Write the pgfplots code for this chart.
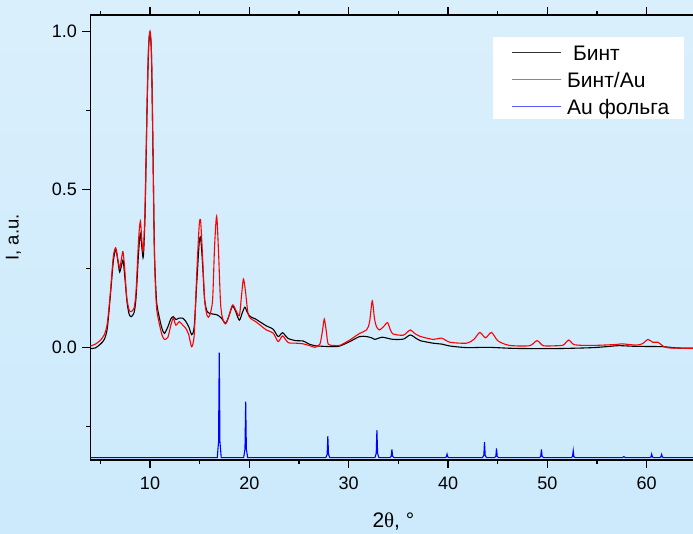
\documentclass[border=0pt]{standalone}
\usepackage{pgfplots}
\pgfplotsset{compat=1.18}
\usepackage{fontspec}
\setmainfont{Liberation Sans}
\newfontfamily\serifgr{Liberation Serif}
\definecolor{bgtop}{RGB}{218,239,252}
\definecolor{bgbot}{RGB}{204,234,252}
\definecolor{legblack}{RGB}{50,50,50}
\definecolor{legred}{RGB}{240,90,90}
\definecolor{legblue}{RGB}{90,90,250}

\pgfplotstableread{
x y
4.0 -0.004
4.5 -0.002
5.0 0.010
5.4 0.025
5.7 0.060
6.0 0.160
6.3 0.270
6.55 0.310
6.8 0.265
6.95 0.238
7.15 0.262
7.3 0.274
7.5 0.210
7.7 0.140
7.9 0.105
8.1 0.097
8.4 0.110
8.6 0.160
8.85 0.300
9.03 0.360
9.2 0.310
9.33 0.287
9.5 0.420
9.7 0.750
9.85 0.940
10.0 0.995
10.15 0.920
10.3 0.620
10.45 0.300
10.65 0.150
10.9 0.100
11.2 0.060
11.45 0.044
11.8 0.065
12.1 0.090
12.35 0.097
12.6 0.088
12.9 0.092
13.3 0.092
13.6 0.082
13.9 0.065
14.2 0.040
14.45 0.065
14.7 0.200
14.95 0.330
15.1 0.345
15.3 0.260
15.5 0.150
15.75 0.113
16.0 0.107
16.4 0.105
16.8 0.102
17.2 0.092
17.6 0.076
17.9 0.095
18.3 0.130
18.6 0.115
18.99 0.086
19.3 0.110
19.55 0.127
19.8 0.110
20.1 0.097
20.6 0.090
21.1 0.080
21.7 0.068
22.4 0.057
22.9 0.034
23.35 0.046
23.9 0.028
24.7 0.021
25.4 0.020
26.1 0.009
26.6 0.005
27.5 0.003
28.5 0.002
29.1 0.004
30.1 0.018
31.1 0.034
31.8 0.034
32.3 0.030
32.64 0.025
33.1 0.030
33.4 0.032
34.0 0.028
34.5 0.025
35.5 0.026
36.2 0.039
36.8 0.028
37.2 0.021
38.5 0.013
39.4 0.010
40.2 0.004
41.9 -0.001
44.0 0.000
46.2 -0.003
48.0 -0.004
51.0 -0.004
54.6 -0.001
57.0 0.005
57.5 0.005
59.0 0.003
61.6 0.002
63.0 -0.002
65.0 -0.003
}\bint

\pgfplotstableread{
x y
4.0 0.004
4.5 0.010
5.0 0.022
5.4 0.040
5.7 0.075
6.0 0.170
6.3 0.285
6.55 0.315
6.8 0.272
6.95 0.250
7.15 0.285
7.28 0.303
7.45 0.250
7.65 0.160
7.9 0.118
8.1 0.113
8.4 0.125
8.6 0.180
8.85 0.340
9.03 0.399
9.2 0.330
9.33 0.308
9.5 0.440
9.7 0.760
9.85 0.950
10.0 1.000
10.15 0.930
10.3 0.620
10.45 0.290
10.65 0.130
10.9 0.080
11.2 0.040
11.45 0.025
11.8 0.032
12.1 0.070
12.35 0.092
12.6 0.070
12.95 0.081
13.3 0.070
13.6 0.060
13.9 0.040
14.19 0.002
14.45 0.040
14.7 0.230
14.95 0.385
15.1 0.398
15.3 0.280
15.5 0.150
15.75 0.100
16.0 0.100
16.3 0.150
16.5 0.320
16.71 0.415
16.9 0.300
17.1 0.140
17.3 0.092
17.6 0.074
17.9 0.095
18.3 0.134
18.6 0.120
18.99 0.100
19.2 0.160
19.4 0.216
19.6 0.180
19.85 0.110
20.1 0.092
20.6 0.082
21.1 0.070
21.7 0.055
22.4 0.045
22.9 0.018
23.35 0.036
23.9 0.015
24.7 0.013
25.4 0.011
26.1 0.005
26.6 0.000
27.1 0.010
27.35 0.050
27.54 0.089
27.75 0.050
27.94 0.010
28.5 0.006
29.1 0.006
30.1 0.023
31.1 0.044
31.8 0.055
32.1 0.080
32.37 0.147
32.6 0.090
32.8 0.065
33.1 0.055
33.5 0.065
33.91 0.078
34.2 0.055
34.48 0.042
35.48 0.038
35.9 0.048
36.22 0.055
36.6 0.045
37.16 0.035
38.5 0.025
39.35 0.029
40.2 0.016
41.86 0.013
42.6 0.025
43.2 0.047
43.77 0.030
44.37 0.047
45.04 0.020
46.2 0.006
48.2 0.005
48.96 0.021
49.6 0.005
50.9 0.005
51.6 0.007
52.15 0.023
52.75 0.008
54.6 0.006
56.95 0.009
57.5 0.011
58.97 0.007
59.6 0.012
60.13 0.025
60.6 0.016
61.14 0.016
61.64 0.004
62.3 -0.002
65.0 -0.003
}\bintau

\pgfplotstableread{
x y
4.0 -0.349
16.77 -0.349
16.90 -0.299
16.97 -0.017
17.04 -0.299
17.17 -0.349
19.43 -0.349
19.56 -0.322
19.63 -0.172
19.70 -0.322
19.83 -0.349
27.70 -0.349
27.83 -0.339
27.90 -0.281
27.97 -0.339
28.10 -0.349
32.64 -0.349
32.77 -0.336
32.84 -0.262
32.91 -0.336
33.04 -0.349
34.15 -0.349
34.28 -0.345
34.35 -0.323
34.42 -0.345
34.55 -0.349
39.70 -0.349
39.83 -0.347
39.90 -0.338
39.97 -0.347
40.10 -0.349
43.47 -0.349
43.60 -0.342
43.67 -0.300
43.74 -0.342
43.87 -0.349
44.68 -0.349
44.81 -0.345
44.88 -0.320
44.95 -0.345
45.08 -0.349
49.20 -0.349
49.33 -0.345
49.40 -0.323
49.47 -0.345
49.60 -0.349
52.40 -0.349
52.53 -0.346
52.60 -0.327
52.67 -0.346
52.80 -0.349
57.55 -0.349
57.70 -0.346
57.85 -0.349
60.30 -0.349
60.43 -0.347
60.50 -0.338
60.57 -0.347
60.70 -0.349
61.30 -0.349
61.43 -0.347
61.50 -0.339
61.57 -0.347
61.70 -0.349
65.0 -0.349
}\aufoil

\begin{document}
\begin{tikzpicture}
\path[use as bounding box, top color=bgtop, bottom color=bgbot] (0,0) rectangle (693pt,534pt);
\begin{axis}[
  at={(90.4pt,74pt)}, anchor=south west,
  width=606pt, height=445pt, scale only axis,
  xmin=4, xmax=65, ymin=-0.3566, ymax=1.0516,
  xtick={10,20,...,60}, minor xtick={5,15,...,65},
  ytick={0,0.5,1}, minor ytick={-0.25,0.25,0.75},
  tick align=outside, xtick pos=both, ytick pos=left,
  major tick length=8pt, minor tick length=4pt,
  every tick/.style={black, line width=1.3pt},
  axis line style={black, line width=1.4pt},
  /pgf/number format/assume math mode=true,
  tick label style={font=\fontsize{18}{20}\selectfont},
  xticklabel style={yshift=-5pt},
  yticklabel style={xshift=-2pt, /pgf/number format/.cd, fixed, fixed zerofill, precision=1},
  xlabel={2{\serifgr θ}, °},
  ylabel={I, a.u.},
  every axis x label/.style={at={(axis description cs:0.5,-0.1528)}, anchor=base, font=\fontsize{21}{24}\selectfont},
  every axis y label/.style={at={(axis description cs:-0.1186,0.5)}, rotate=90, anchor=base, font=\fontsize{18.5}{20}\selectfont},
]
\addplot[black, line width=1.1pt, smooth, tension=0.45] table[x=x,y=y] {\bint};
\addplot[red, line width=1.1pt, smooth, tension=0.45] table[x=x,y=y] {\bintau};
\addplot[blue, line width=1.1pt] table[x=x,y=y] {\aufoil};
\end{axis}
% legend
\fill[white] (493.3pt,415pt) rectangle (684pt,497.3pt);
\draw[legblack, line width=0.9pt] (512pt,481.7pt) -- (561pt,481.7pt);
\draw[legred, line width=0.9pt] (512pt,455pt) -- (561pt,455pt);
\draw[legblue, line width=0.9pt] (512pt,428pt) -- (561pt,428pt);
\begin{scope}[every node/.style={anchor=base west, inner sep=0pt, font=\fontsize{21}{24}\selectfont}]
\node at (567pt,473.3pt) {\ Бинт};
\node at (567pt,446.6pt) {Бинт/Au};
\node at (567pt,419.8pt) {Au фольга};
\end{scope}
\end{tikzpicture}
\end{document}
